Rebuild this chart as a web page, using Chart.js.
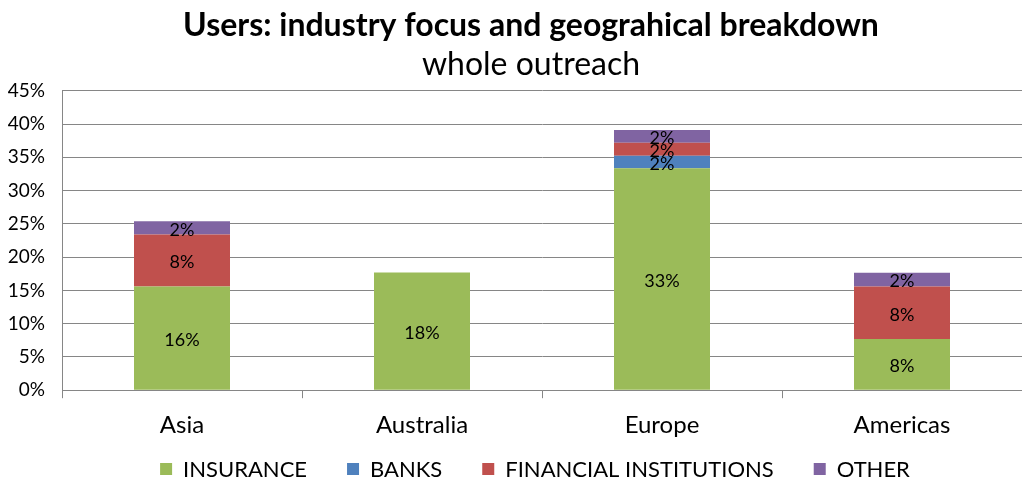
<!DOCTYPE html>
<html><head><meta charset="utf-8">
<script src="https://cdn.jsdelivr.net/npm/chart.js@4/dist/chart.umd.min.js"></script>
<style>html,body{margin:0;padding:0;background:#fff;}canvas{display:block;}</style>
</head><body>
<canvas id="c" width="1022" height="481"></canvas>
<script>
const categories = ["Asia", "Australia", "Europe", "Americas"];
const insurance = [15.6, 17.7, 33.35, 7.7];
const banks = [null, null, 1.9, null];
const financial = [7.8, null, 1.95, 7.9];
const other = [2.0, null, 1.9, 2.05];
const yTicks = [0, 5, 10, 15, 20, 25, 30, 35, 40, 45];

const FONT = "Lato, 'Open Sans', sans-serif";
const GRID = "#868686";

const labelPlugin = {
  id: "segLabels",
  afterDatasetsDraw(chart) {
    const ctx = chart.ctx;
    ctx.save();
    ctx.font = "18px " + FONT;
    ctx.fillStyle = "#000";
    ctx.textAlign = "center";
    ctx.textBaseline = "middle";
    chart.data.datasets.forEach((ds, di) => {
      const meta = chart.getDatasetMeta(di);
      meta.data.forEach((bar, i) => {
        const v = ds.data[i];
        if (v == null || v === 0) return;
        const p = bar.getProps(["x", "y", "base"], true);
        ctx.fillText(Math.round(v) + "%", p.x, (p.y + p.base) / 2 + 2);
      });
    });
    ctx.restore();
  }
};

const shiftPlugin = {
  id: "shiftBlocks",
  afterLayout(chart) {
    chart.boxes.forEach(b => {
      if (b.options && typeof b.options.text === "string") {
        b.left += 20; b.right += 20;
      }
    });
  }
};

// legend drawn from the datasets, laid out like the reference (wide spacing)
const legendPlugin = {
  id: "wideLegend",
  afterDraw(chart) {
    const ctx = chart.ctx;
    const box = 12, boxGap = 11, itemGap = 40, cx = 535, cy = 469;
    ctx.save();
    ctx.font = "22px " + FONT;
    ctx.textBaseline = "middle";
    ctx.textAlign = "left";
    const items = chart.data.datasets.map(d => ({ text: d.label, color: d.backgroundColor, w: ctx.measureText(d.label).width }));
    const total = items.reduce((s, it) => s + box + boxGap + it.w, 0) + itemGap * (items.length - 1);
    let x = cx - total / 2;
    items.forEach(it => {
      ctx.fillStyle = it.color;
      ctx.fillRect(x, cy - box / 2, box, box);
      ctx.fillStyle = "#000";
      ctx.fillText(it.text, x + box + boxGap, cy + 1);
      x += box + boxGap + it.w + itemGap;
    });
    ctx.restore();
  }
};

new Chart(document.getElementById("c"), {
  type: "bar",
  data: {
    labels: categories,
    datasets: [
      { label: "INSURANCE", data: insurance, backgroundColor: "#9BBB59" },
      { label: "BANKS", data: banks, backgroundColor: "#4F81BD" },
      { label: "FINANCIAL INSTITUTIONS", data: financial, backgroundColor: "#C0504D" },
      { label: "OTHER", data: other, backgroundColor: "#8064A2" }
    ]
  },
  options: {
    responsive: false,
    animation: false,
    layout: { padding: { left: 0, right: 0, top: 0, bottom: 28 } },
    datasets: { bar: { categoryPercentage: 1.0, barPercentage: 0.4 } },
    scales: {
      x: {
        stacked: true,
        grid: { display: true, offset: true, drawOnChartArea: false, color: GRID, tickLength: 8 },
        border: { display: true, color: GRID },
        ticks: { color: "#000", font: { family: FONT, size: 24 }, padding: 13 }
      },
      y: {
        stacked: true,
        min: 0, max: 45,
        afterBuildTicks(axis) { axis.ticks = yTicks.map(v => ({ value: v })); },
        afterFit(scale) { scale.width = 62; },
        grid: { color: GRID, tickLength: 0 },
        border: { display: true, color: GRID },
        ticks: { color: "#000", font: { family: FONT, size: 19 }, padding: 17, callback: v => v + "%" }
      }
    },
    plugins: {
      title: { display: true, text: "Users: industry focus and geograhical breakdown", color: "#000",
        font: { family: FONT, size: 32, weight: "bold" }, padding: { top: 6, bottom: 0 } },
      subtitle: { display: true, text: "whole outreach", color: "#000",
        font: { family: FONT, size: 32, weight: "normal" }, padding: { top: 1, bottom: 7 } },
      legend: { display: false },
      tooltip: { enabled: false }
    }
  },
  plugins: [labelPlugin, shiftPlugin, legendPlugin]
});
</script>
</body></html>
